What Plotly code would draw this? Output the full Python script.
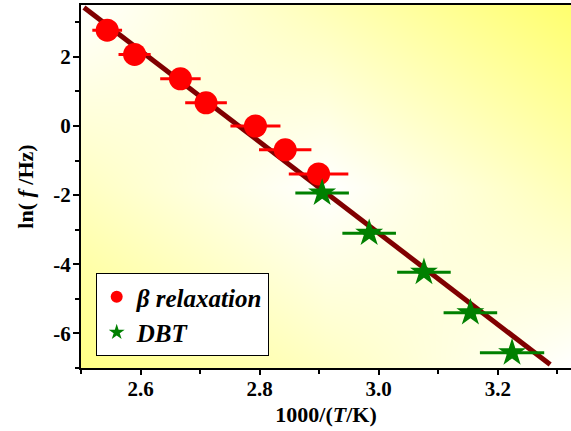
import plotly.graph_objects as go

# ---- data ----
beta_x = [2.544, 2.590, 2.667, 2.710, 2.793, 2.843, 2.899]
beta_y = [2.77, 2.07, 1.365, 0.672, 0.0, -0.69, -1.385]
beta_xerr = [0.025, 0.027, 0.034, 0.035, 0.042, 0.044, 0.050]

dbt_x = [2.905, 2.984, 3.076, 3.154, 3.224]
dbt_y = [-1.94, -3.10, -4.23, -5.40, -6.56]
dbt_xerr = [0.045, 0.045, 0.045, 0.045, 0.054]

fit_x = [2.505, 3.288]
fit_y = [3.43, -6.90]

x_tickvals = [2.6, 2.8, 3.0, 3.2]
y_tickvals = [-6, -4, -2, 0, 2]

XR = [2.5, 3.323]
YR = [-7.0, 3.5]

# background gradient weights (decoration): yellow at top-right / bottom-left
bg_z = [[0.85, 0.42, 0.0],
        [0.42, 0.0, 0.5],
        [0.0, 0.5, 1.0]]

serif = "Liberation Serif"

fig = go.Figure()

fig.add_trace(go.Heatmap(
    x=[XR[0], (XR[0] + XR[1]) / 2, XR[1]],
    y=[YR[0], (YR[0] + YR[1]) / 2, YR[1]],
    z=bg_z, zmin=0, zmax=1, zsmooth="best",
    colorscale=[[0, "#ffffff"], [1, "#ffff6e"]],
    showscale=False, hoverinfo="skip", showlegend=False,
))

fig.add_trace(go.Scatter(
    x=fit_x, y=fit_y, mode="lines",
    line=dict(color="#800000", width=5),
    showlegend=False, hoverinfo="skip",
))

fig.add_trace(go.Scatter(
    x=beta_x, y=beta_y, mode="markers", name="β relaxation",
    marker=dict(symbol="circle", size=23, color="#ff0000"),
    error_x=dict(type="data", array=beta_xerr, color="#ff0000",
                 thickness=3, width=0),
))

fig.add_trace(go.Scatter(
    x=dbt_x, y=dbt_y, mode="markers", name="DBT",
    marker=dict(symbol="star", size=21, color="#008000"),
    error_x=dict(type="data", array=dbt_xerr, color="#008000",
                 thickness=3, width=0),
))

tickfont = dict(family=serif, size=21, color="black", weight="bold")
titlefont = dict(family=serif, size=22, color="black", weight="bold")

fig.update_layout(
    width=571, height=431,
    margin=dict(l=81, r=0, t=5, b=63, autoexpand=False),
    paper_bgcolor="white", plot_bgcolor="white",
    xaxis=dict(
        range=XR, tickvals=x_tickvals, ticktext=[f"{v:.1f}" for v in x_tickvals],
        ticks="outside", ticklen=5, tickwidth=1.5, tickcolor="black",
        showline=True, linewidth=2, linecolor="black", mirror=True,
        showgrid=False, zeroline=False, tickfont=tickfont, automargin=False,
        ticklabelstandoff=-4,
        minor=dict(dtick=0.1, tick0=2.5, ticks="outside", ticklen=4,
                   tickwidth=1.5, tickcolor="black", showgrid=False),
        title=dict(text="1000/(<i>T</i>/K)", font=titlefont, standoff=6),
    ),
    yaxis=dict(
        range=YR, tickvals=y_tickvals, ticktext=[str(v) for v in y_tickvals],
        ticks="outside", ticklen=6, tickwidth=1.5, tickcolor="black",
        showline=True, linewidth=2, linecolor="black",
        showgrid=False, zeroline=False, tickfont=tickfont, automargin=False,
        ticklabelstandoff=-2,
        minor=dict(dtick=1, tick0=-7, ticks="outside", ticklen=4,
                   tickwidth=1.5, tickcolor="black", showgrid=False),
        title=dict(text="ln( <i>f</i> /Hz)", font=titlefont, standoff=14),
    ),
    legend=dict(
        x=0.03, y=0.033, xanchor="left", yanchor="bottom",
        bgcolor="white", bordercolor="black", borderwidth=1,
        font=dict(family=serif, size=25, color="black", weight="bold", style="italic"),
        itemsizing="constant", tracegroupgap=0,
        entrywidth=150, entrywidthmode="pixels",
    ),
)

fig.write_html(
    "out.html",
    config={"displayModeBar": False},
    post_script="document.body.style.margin='0px';document.body.style.overflow='hidden';",
)
